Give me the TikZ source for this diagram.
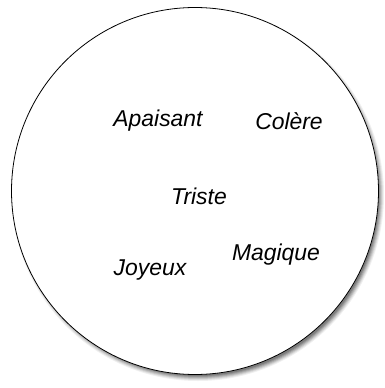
\documentclass[tikz,border=0pt]{standalone}
\usepackage{fontspec}
\setmainfont{Liberation Sans}

\begin{document}
\begin{tikzpicture}[x=1bp,y=-1bp,
  mot/.style={font=\fontsize{23}{27}\selectfont\itshape}]
\useasboundingbox (0,0) rectangle (385,388);
% ombre floue
\foreach \r/\o in {186/0.06,185/0.08,184/0.1,183/0.12,182/0.14,181/0.16}
  \fill[black,opacity=\o] (198,195) circle (\r);
\node[circle,draw,thick,fill=white,minimum size=367bp,inner sep=0pt] (cercle) at (195,191) {};
\node[mot] (apaisant) at (158,121) {Apaisant};
\node[mot] (colere) at (289,121) {Colère};
\node[mot] (triste) at (199,196) {Triste};
\node[mot] (magique) at (276,255) {Magique};
\node[mot] (joyeux) at (150,270) {Joyeux};
\end{tikzpicture}
\end{document}
